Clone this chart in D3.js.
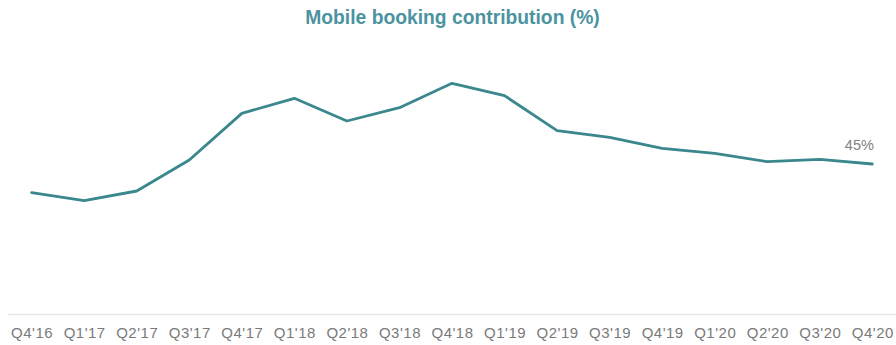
<!DOCTYPE html>
<html>
<head>
<meta charset="utf-8">
<script src="https://cdn.jsdelivr.net/npm/d3@7"></script>
<style>
  html, body { margin: 0; padding: 0; background: #ffffff; }
  svg { display: block; font-family: "Liberation Sans", Arial, sans-serif; }
</style>
</head>
<body>
<svg id="chart" width="896" height="345"></svg>
<script>
// Quarterly share of bookings made on mobile (%)
const quarters = ["Q4'16", "Q1'17", "Q2'17", "Q3'17", "Q4'17", "Q1'18", "Q2'18", "Q3'18",
                  "Q4'18", "Q1'19", "Q2'19", "Q3'19", "Q4'19", "Q1'20", "Q2'20", "Q3'20", "Q4'20"];
const mobileShare = [36.4, 34.0, 36.9, 46.2, 60.2, 64.7, 57.9, 61.9,
                     69.2, 65.5, 55.0, 53.0, 49.7, 48.2, 45.7, 46.4, 45];
const titleText = "Mobile booking contribution (%)";

const width = 896, height = 345;
const baseY = 314;

const svg = d3.select("#chart");

const x = d3.scalePoint()
  .domain(quarters)
  .range([8, width])
  .padding(0.45);

const y = d3.scaleLinear()
  .domain([0, 70])
  .range([baseY, baseY - 70 * (150 / 45)]);

// title
svg.append("text")
  .attr("x", 452.5)
  .attr("y", 24)
  .attr("text-anchor", "middle")
  .attr("font-size", 19.3)
  .attr("font-weight", "bold")
  .attr("fill", "#4b93a0")
  .text(titleText);

// category axis
const xAxis = svg.append("g")
  .attr("transform", `translate(0,${baseY})`)
  .call(d3.axisBottom(x).tickSize(0).tickPadding(13));
xAxis.select(".domain").attr("stroke", "#e8e8e8").attr("stroke-width", 1.5);
xAxis.selectAll("text")
  .attr("font-size", 15)
  .attr("fill", "#7a7a7a")
  .attr("letter-spacing", 0.5)
  .style("font-family", "'Liberation Sans', Arial, sans-serif");

// series line
const line = d3.line()
  .x((d, i) => x(quarters[i]))
  .y(d => y(d));

svg.append("path")
  .datum(mobileShare)
  .attr("fill", "none")
  .attr("stroke", "#3a878d")
  .attr("stroke-width", 2.8)
  .attr("stroke-linejoin", "round")
  .attr("stroke-linecap", "round")
  .attr("d", line);

// end value label
const last = mobileShare.length - 1;
svg.append("text")
  .attr("x", x(quarters[last]) + 1.5)
  .attr("y", y(mobileShare[last]) - 14)
  .attr("text-anchor", "end")
  .attr("font-size", 14.5)
  .attr("fill", "#808080")
  .text(d3.format("d")(mobileShare[last]) + "%");
</script>
</body>
</html>
